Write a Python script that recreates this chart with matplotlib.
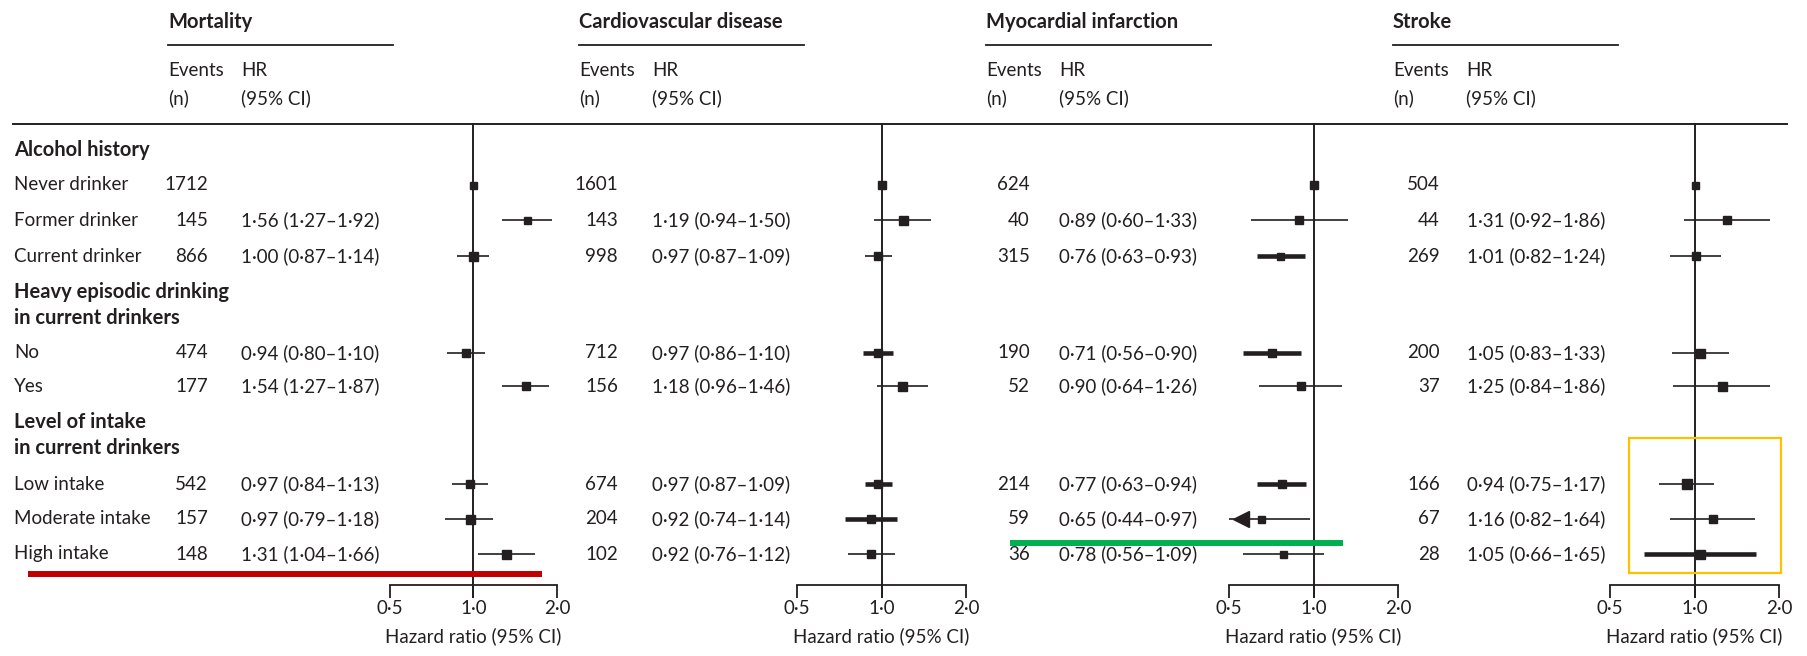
import numpy as np
import matplotlib.pyplot as plt

plt.rcParams['font.family'] = ['Lato', 'DejaVu Sans']

panels = ["Mortality", "Cardiovascular disease", "Myocardial infarction", "Stroke"]
rows = ["Never drinker", "Former drinker", "Current drinker", "No", "Yes",
        "Low intake", "Moderate intake", "High intake"]

mort_n = [1712, 145, 866, 474, 177, 542, 157, 148]
mort_hr = [1.00, 1.56, 1.00, 0.94, 1.54, 0.97, 0.97, 1.31]
mort_lo = [np.nan, 1.27, 0.87, 0.80, 1.27, 0.84, 0.79, 1.04]
mort_hi = [np.nan, 1.92, 1.14, 1.10, 1.87, 1.13, 1.18, 1.66]

cvd_n = [1601, 143, 998, 712, 156, 674, 204, 102]
cvd_hr = [1.00, 1.19, 0.97, 0.97, 1.18, 0.97, 0.92, 0.92]
cvd_lo = [np.nan, 0.94, 0.87, 0.86, 0.96, 0.87, 0.74, 0.76]
cvd_hi = [np.nan, 1.50, 1.09, 1.10, 1.46, 1.09, 1.14, 1.12]

mi_n = [624, 40, 315, 190, 52, 214, 59, 36]
mi_hr = [1.00, 0.89, 0.76, 0.71, 0.90, 0.77, 0.65, 0.78]
mi_lo = [np.nan, 0.60, 0.63, 0.56, 0.64, 0.63, 0.44, 0.56]
mi_hi = [np.nan, 1.33, 0.93, 0.90, 1.26, 0.94, 0.97, 1.09]

stroke_n = [504, 44, 269, 200, 37, 166, 67, 28]
stroke_hr = [1.00, 1.31, 1.01, 1.05, 1.25, 0.94, 1.16, 1.05]
stroke_lo = [np.nan, 0.92, 0.82, 0.83, 0.84, 0.75, 0.82, 0.66]
stroke_hi = [np.nan, 1.86, 1.24, 1.33, 1.86, 1.17, 1.64, 1.65]

ticks = [0.5, 1.0, 2.0]
tick_labels = ["0·5", "1·0", "2·0"]

# layout (pixels from top-left)
W, H = 1807, 656
row_y = [185, 220, 256, 353, 386, 484, 519, 554]
rule_y, axis_y = 124, 585
# x of 0.5 / 2.0, title x, events right edge, HR text x
px = [(390, 557, 168, 208, 241),
      (797, 966, 579, 618, 652),
      (1229, 1398, 986, 1030, 1059),
      (1610, 1779, 1393, 1440, 1467)]
msize = [[7, 7, 9, 8, 8, 8, 9, 9],
         [8, 9, 8, 8, 9, 8, 8, 8],
         [8, 8, 7, 8, 8, 8, 7, 7],
         [7, 8, 8, 9, 9, 10, 8, 9]]
thick = [[0, 0, 0, 0, 0, 0, 0, 0],
         [0, 0, 0, 1, 0, 1, 1, 0],
         [0, 0, 1, 1, 0, 1, 0, 0],
         [0, 0, 0, 0, 0, 0, 0, 1]]

ink = "#231f20"
fs = 13.5
fsb = 14.5

data = [(mort_n, mort_hr, mort_lo, mort_hi),
        (cvd_n, cvd_hr, cvd_lo, cvd_hi),
        (mi_n, mi_hr, mi_lo, mi_hi),
        (stroke_n, stroke_hr, stroke_lo, stroke_hi)]

def fmt(v):
    return f"{v:.2f}".replace(".", "·")

fig = plt.figure(figsize=(W / 100, H / 100), dpi=100)
bg = fig.add_axes([0, 0, 1, 1])
bg.set_xlim(0, W)
bg.set_ylim(H, 0)
bg.axis("off")

bg.plot([13, 1787], [rule_y, rule_y], color=ink, lw=1.4)

headings = [("Alcohol history", 150), ("Heavy episodic drinking", 292), ("in current drinkers", 318),
            ("Level of intake", 422), ("in current drinkers", 448)]
for t, y in headings:
    bg.text(14, y, t, fontsize=fsb, fontweight="bold", color=ink, va="center")
for t, y in zip(rows, row_y):
    bg.text(14, y, t, fontsize=fs, color=ink, va="center")

for k, (name, (n, hr, lo, hi)) in enumerate(zip(panels, data)):
    x05, x20, xt, xn, xh = px[k]
    bg.text(xt, 22, name, fontsize=fsb, fontweight="bold", color=ink, va="center")
    bg.plot([xt, xt + 225], [45, 45], color=ink, lw=1.3)
    bg.text(xt, 71, "Events", fontsize=fs, color=ink, va="center")
    bg.text(xt, 98, "(n)", fontsize=fs, color=ink, va="center")
    bg.text(xt + 73, 71, "HR", fontsize=fs, color=ink, va="center")
    bg.text(xt + 73, 98, "(95% CI)", fontsize=fs, color=ink, va="center")
    for i, y in enumerate(row_y):
        bg.text(xn, y, str(n[i]), fontsize=fs, color=ink, va="center", ha="right")
        if not np.isnan(lo[i]):
            bg.text(xh, y, f"{fmt(hr[i])} ({fmt(lo[i])}–{fmt(hi[i])})",
                    fontsize=fs, color=ink, va="center")

    ax = fig.add_axes([x05 / W, 1 - axis_y / H, (x20 - x05) / W, (axis_y - rule_y) / H])
    ax.patch.set_alpha(0)
    ax.set_xscale("log")
    ax.set_xlim(0.5, 2.0)
    ax.set_ylim(axis_y, rule_y)
    for s in ["top", "right", "left"]:
        ax.spines[s].set_visible(False)
    ax.spines["bottom"].set_linewidth(1.3)
    ax.spines["bottom"].set_color(ink)
    ax.set_yticks([])
    ax.set_xticks(ticks)
    ax.set_xticklabels(tick_labels)
    ax.minorticks_off()
    ax.tick_params(axis="x", direction="out", length=9, width=1.3, color=ink,
                   labelsize=fs, labelcolor=ink, pad=2)
    ax.set_xlabel("Hazard ratio (95% CI)", fontsize=fs, color=ink, labelpad=7)
    ax.plot([1, 1], [rule_y, axis_y + 12], color=ink, lw=1.4, clip_on=False)

    for i, y in enumerate(row_y):
        lw = 3.3 if thick[k][i] else 1.2
        if not np.isnan(lo[i]):
            left = max(lo[i], 0.5)
            ax.plot([left, hi[i]], [y, y], color=ink, lw=lw, solid_capstyle="butt", zorder=3)
            if lo[i] < 0.5:
                ax.plot([0.5 * 1.1], [y], marker="<", ms=11, color=ink, mec=ink, zorder=4,
                        clip_on=False)
        ax.plot([hr[i]], [y], marker="s", ms=msize[k][i] * 0.72, color=ink, mec=ink, zorder=5,
                clip_on=False)

# highlight marks
top = fig.add_axes([0, 0, 1, 1])
top.set_xlim(0, W)
top.set_ylim(H, 0)
top.axis("off")
top.plot([28, 542], [574, 574], color="#c00000", lw=4.3, solid_capstyle="butt")
top.plot([1010, 1343], [543, 543], color="#00b050", lw=4.3, solid_capstyle="butt")
top.add_patch(plt.Rectangle((1629, 438), 152, 135, fill=False, ec="#ffc000", lw=1.6))

fig.savefig("out.png", dpi=100)
